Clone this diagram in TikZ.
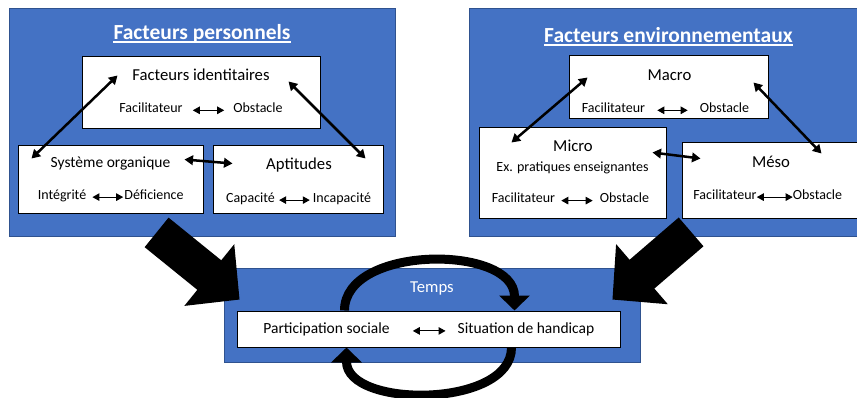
\documentclass[tikz,border=0pt]{standalone}
\usepackage{fontspec}
\setmainfont{Carlito}
\usepackage{xcolor}
\usepackage{tikz}
\usetikzlibrary{arrows.meta, positioning, calc}

\definecolor{panelblue}{HTML}{4472C4}
\definecolor{paneledge}{HTML}{2F528F}

\tikzset{
  panel/.style={draw=paneledge, line width=0.8pt, fill=panelblue, rectangle, inner sep=0pt},
  whitebox/.style={draw=black, line width=1pt, fill=white, rectangle, inner sep=0pt},
  paneltitle/.style={anchor=base, inner sep=0pt, text=white, font=\fontsize{21.5}{24}\selectfont\bfseries},
  boxtitle/.style={anchor=base, inner sep=0pt, font=\fontsize{16.7}{19}\selectfont},
  subtext/.style={anchor=base, inner sep=0pt, font=\fontsize{14}{16}\selectfont},
  linkarrow/.style={{Triangle[length=8.5pt,width=9.5pt]}-{Triangle[length=8.5pt,width=9.5pt]}, line width=2.5pt},
  smallarrow/.style={{Triangle[length=7pt,width=7.5pt]}-{Triangle[length=7pt,width=7.5pt]}, line width=1pt},
  bigarrow/.style={-{Triangle[length=39pt,width=77pt]}, line width=38pt},
  cyclearrow/.style={-{Triangle[length=15pt,width=30pt]}, line width=9pt},
}

\begin{document}
\begin{tikzpicture}[x=1pt, y=-1pt]
    \useasboundingbox (0,0) rectangle (857,398);

    % Facteurs personnels
    \node[panel, minimum width=386pt, minimum height=228pt] (perso) at (202,122) {};
    \node[paneltitle] (tperso) at (202,39.5) {Facteurs personnels};
    \draw[white, line width=1.2pt] ([yshift=-2.5pt]tperso.base west) -- ([yshift=-2.5pt]tperso.base east);

    \node[whitebox, minimum width=238pt, minimum height=72pt] (ident) at (201,93) {};
    \node[boxtitle] (tident) at (201,81) {Facteurs identitaires};
    \node[subtext] (fa1) at (151,112.7) {Facilitateur};
    \node[subtext] (ob1) at (258,112.7) {Obstacle};
    \draw[smallarrow, shorten <=10pt, shorten >=9pt] (fa1.mid east) -- (ob1.mid west);

    \node[whitebox, minimum width=185pt, minimum height=68pt] (sys) at (110.5,180) {};
    \node[boxtitle, font=\fontsize{15.5}{18}\selectfont] (tsys) at (110.5,168) {Système organique};
    \node[subtext] (in1) at (62,199.5) {Intégrité};
    \node[subtext] (de1) at (154,199.5) {Déficience};
    \draw[smallarrow, shorten <=6pt, shorten >=1pt] (in1.mid east) -- (de1.mid west);

    \node[whitebox, minimum width=170pt, minimum height=68pt] (apt) at (298,180) {};
    \node[boxtitle] (tapt) at (299,170) {Aptitudes};
    \node[subtext] (ca1) at (250.5,202.5) {Capacité};
    \node[subtext] (inc1) at (342,202.5) {Incapacité};
    \draw[smallarrow, shorten <=4pt, shorten >=3pt] (ca1.mid east) -- (inc1.mid west);

    \draw[linkarrow] ([shift={(36,19)}]ident.north west) -- ([shift={(14,13)}]sys.north west);
    \draw[linkarrow] ([shift={(-32,25)}]ident.north east) -- ([shift={(-18,13)}]apt.north east);
    \draw[linkarrow] ([shift={(-19,14)}]sys.north east) -- ([shift={(20,18)}]apt.north west);

    % Facteurs environnementaux
    \node[panel, minimum width=393pt, minimum height=228pt] (envir) at (665.5,122) {};
    \node[paneltitle] (tenvir) at (668.5,42.5) {Facteurs environnementaux};
    \draw[white, line width=1.2pt] ([yshift=-2.5pt]tenvir.base west) -- ([yshift=-2.5pt]tenvir.base east);

    \node[whitebox, minimum width=199pt, minimum height=63pt] (macro) at (668.5,87.5) {};
    \node[boxtitle] (tmacro) at (669.5,81) {Macro};
    \node[subtext] (fa2) at (613.5,112.7) {Facilitateur};
    \node[subtext] (ob2) at (724.5,112.7) {Obstacle};
    \draw[smallarrow, shorten <=12pt, shorten >=12pt] (fa2.mid east) -- (ob2.mid west);

    \node[whitebox, minimum width=187pt, minimum height=91pt] (micro) at (572.5,173.5) {};
    \node[boxtitle] (tmicro) at (573,152) {Micro};
    \node[subtext] (tex) at (572.5,171.5) {Ex. pratiques enseignantes};
    \node[subtext] (fa3) at (523.5,203) {Facilitateur};
    \node[subtext] (ob3) at (624.5,203) {Obstacle};
    \draw[smallarrow, shorten <=6pt, shorten >=7pt] (fa3.mid east) -- (ob3.mid west);

    \node[whitebox, minimum width=188pt, minimum height=76pt] (meso) at (776,181) {};
    \node[boxtitle] (tmeso) at (771,167.5) {Méso};
    \node[subtext] (fa4) at (725,199.5) {Facilitateur};
    \node[subtext] (ob4) at (817.5,199.5) {Obstacle};
    \draw[smallarrow] (fa4.mid east) -- (ob4.mid west);

    \draw[linkarrow] ([shift={(19,22)}]macro.north west) -- ([shift={(33,15)}]micro.north west);
    \draw[linkarrow] ([shift={(-15,27)}]macro.north east) -- ([shift={(140,11)}]meso.north west);
    \draw[linkarrow] ([shift={(-14,25)}]micro.north east) -- ([shift={(19,16)}]meso.north west);

    % Temps
    \node[panel, minimum width=416pt, minimum height=94pt] (temps) at (432,315) {};
    \node[boxtitle, text=white] (ttemps) at (432,292.5) {Temps};
    \node[whitebox, minimum width=383pt, minimum height=36pt] (ps) at (428.5,329) {};
    \node[boxtitle, font=\fontsize{15.5}{18}\selectfont] (part) at (326.5,333.3) {Participation sociale};
    \node[boxtitle, font=\fontsize{15.5}{18}\selectfont] (sit) at (526,333.3) {Situation de handicap};
    \draw[smallarrow, shorten <=23pt, shorten >=12pt] (part.mid east) -- (sit.mid west);

    % Cycle
    \draw[cyclearrow] ([shift={(108,0)}]ps.north west) .. controls +(0,-66) and +(0,-66) .. ([shift={(278,0)}]ps.north west);
    \draw[cyclearrow] ([shift={(275,0)}]ps.south west) .. controls +(0,61) and +(0,61) .. ([shift={(110,0)}]ps.south west);

    % Big arrows
    \draw[bigarrow] ([shift={(148,-4)}]perso.south west) -- ([shift={(16,32)}]temps.north west);
    \draw[bigarrow] ([shift={(222.5,-4.5)}]envir.south west) -- ([shift={(-28,32)}]temps.north east);
\end{tikzpicture}
\end{document}
